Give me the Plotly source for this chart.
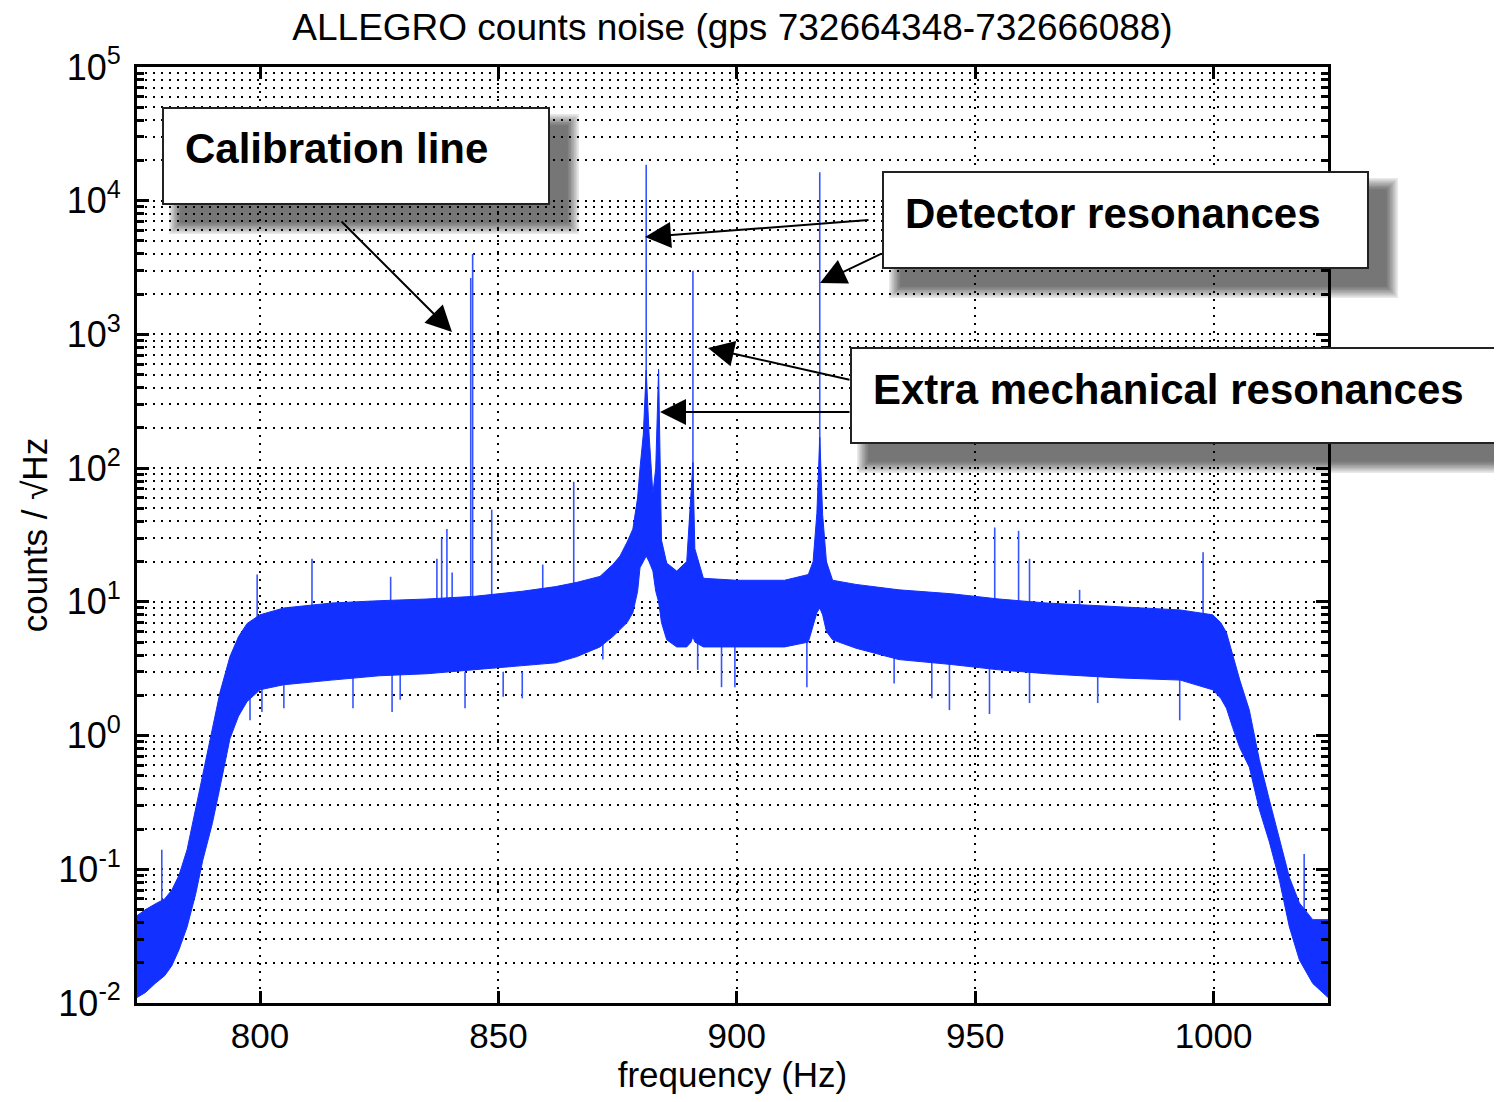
import plotly.graph_objects as go

# ---------------- data ----------------
env_freq = [774.2, 776, 778, 780, 781.5, 783, 784.7, 786.5, 788, 790, 791.6, 793.7, 795.5,
            797.3, 800, 805, 815, 825, 835, 845, 855, 862, 866.5, 871.3, 874, 875.5, 877,
            878.2, 879.2, 879.7, 880.4, 881.0, 881.6, 882.4, 883.0, 883.6, 884.2, 885.3,
            887.4, 889.5, 890.4, 890.8, 891.2, 893, 900, 910, 915, 916, 916.8, 917.4, 918,
            918.8, 920.1, 925, 934, 945, 955, 965, 980, 993, 999.8, 1001.5, 1002.7, 1004,
            1005.5, 1007.5, 1009.6, 1011.7, 1013.8, 1015.9, 1018, 1020.8, 1024]
env_upper = [0.045, 0.05, 0.055, 0.06, 0.07, 0.09, 0.14, 0.28, 0.52, 1.1, 2.1, 3.9, 5.5,
             6.9, 8.0, 9.0, 9.8, 10.2, 10.5, 11, 12, 13, 14, 15.5, 19, 22, 28,
             35, 60, 100, 180, 540, 180, 64, 100, 550, 29, 19.5,
             17, 20, 60, 110, 25, 15, 14.5, 14.5, 16, 20, 46, 170, 45,
             20, 14.5, 13.5, 12.3, 11.5, 10.5, 9.8, 9.2, 8.7, 8.0, 7.0, 5.9, 4.0,
             2.6, 1.55, 0.66, 0.33, 0.166, 0.087, 0.056, 0.042, 0.042]
env_lower = [0.011, 0.012, 0.014, 0.016, 0.019, 0.025, 0.037, 0.065, 0.117, 0.22, 0.41, 0.95, 1.4,
             1.8, 2.2, 2.4, 2.6, 2.8, 2.9, 3.1, 3.3, 3.5, 3.9, 4.6, 5.5, 6.2, 7.0,
             8.3, 12, 18, 20, 22, 20, 17, 12, 10, 7, 5.2,
             4.6, 4.6, 5.0, 5.5, 5.0, 4.6, 4.6, 4.6, 5.0, 6.5, 8.3, 9.0, 8.0,
             6.0, 5.2, 4.5, 3.7, 3.4, 3.1, 2.9, 2.7, 2.6, 2.2, 1.9, 1.6, 1.15,
             0.81, 0.58, 0.28, 0.16, 0.083, 0.037, 0.021, 0.014, 0.011]

# narrow lines rising above the noise floor
spike_freq = [779.4, 799.4, 810.9, 827.4, 837.1, 838.1, 839.2, 840.3, 844.2, 844.6, 848.6,
              859.3, 865.8, 881.0, 890.8, 917.4, 954.1, 959.1, 961.4, 971.9, 997.8, 1019.0]
spike_top = [0.14, 16, 21, 15.4, 21, 30, 35, 16.6, 2640, 4000, 49,
             19, 79, 18600, 3000, 16300, 36, 34, 21, 12.3, 23.5, 0.13]
spike_base = [0.05, 6, 7, 7, 8, 8, 8, 8, 8, 8, 8,
              9, 10, 100, 20, 40, 8, 8, 8, 7, 6, 0.04]

# downward dips below the noise floor
dip_freq = [797.9, 800.4, 805.0, 819.5, 827.7, 829.4, 843.0, 851.0, 855.0, 871.9, 891.8,
            896.8, 899.6, 914.7, 933.0, 940.9, 944.6, 953.0, 961.4, 975.7, 992.9]
dip_low = [1.3, 1.5, 1.6, 1.6, 1.5, 1.85, 1.6, 1.95, 1.9, 3.7, 3.1,
           2.3, 2.3, 2.3, 2.45, 1.9, 1.55, 1.45, 1.75, 1.75, 1.3]
dip_top = [3, 3, 3, 3, 3, 3, 3, 3, 3, 5, 5,
           5, 5, 5, 4, 4, 4, 4, 4, 3, 3]

x_ticks = [800, 850, 900, 950, 1000]
y_major = [1e-2, 1e-1, 1e0, 1e1, 1e2, 1e3, 1e4, 1e5]
y_major_text = ["10<sup>-2</sup>", "10<sup>-1</sup>", "10<sup>0</sup>", "10<sup>1</sup>",
                "10<sup>2</sup>", "10<sup>3</sup>", "10<sup>4</sup>", "10<sup>5</sup>"]
y_minor = [m * 10.0 ** e for e in range(-2, 5) for m in range(2, 10)]

title_text = "ALLEGRO counts noise (gps 732664348-732666088)"
x_label = "frequency (Hz)"
y_label = "counts / \u221aHz"
box_texts = ["Calibration line", "Detector resonances", "Extra mechanical resonances"]

# ---------------- geometry (screen pixels; page body has an 8px margin) ----------------
OFF = 8
W, H = 1502 - 2 * OFF, 1102 - 2 * OFF
L, R, T, B = 137, 1328, 67, 1003   # plot area in screen pixels


def px(x):
    return (x - L) / (R - L)


def py(y):
    return (B - y) / (B - T)


BLUE = "rgb(18,48,255)"
LINE_BLUE = "rgb(55,85,255)"

fig = go.Figure()

# spikes
sx, sy = [], []
for f, b, t in zip(spike_freq, spike_base, spike_top):
    sx += [f, f, None]
    sy += [b, t, None]
fig.add_trace(go.Scatter(x=sx, y=sy, mode="lines", line=dict(color=LINE_BLUE, width=1.6),
                         hoverinfo="skip"))
dx, dy = [], []
for f, lo, t in zip(dip_freq, dip_low, dip_top):
    dx += [f, f, None]
    dy += [t, lo, None]
fig.add_trace(go.Scatter(x=dx, y=dy, mode="lines", line=dict(color=LINE_BLUE, width=1.6),
                         hoverinfo="skip"))

# noise band
fig.add_trace(go.Scatter(x=env_freq, y=env_lower, mode="lines",
                         line=dict(color=BLUE, width=1), hoverinfo="skip"))
fig.add_trace(go.Scatter(x=env_freq, y=env_upper, mode="lines", fill="tonexty",
                         fillcolor=BLUE, line=dict(color=BLUE, width=1), hoverinfo="skip"))

FONT = "Liberation Sans, Arial, sans-serif"

fig.update_layout(
    width=W, height=H,
    margin=dict(l=L - OFF, r=W + OFF - R, t=T - OFF, b=H + OFF - B, pad=0, autoexpand=False),
    paper_bgcolor="white", plot_bgcolor="white",
    showlegend=False,
    font=dict(family=FONT, size=35, color="black"),
    title=dict(text=title_text, x=0.5, xref="paper", xanchor="center",
               y=1 - (27 - OFF) / H, yanchor="middle", yref="container",
               font=dict(size=37, family=FONT, color="black")),
)

fig.update_xaxes(
    range=[774.2, 1024.0], tickmode="array", tickvals=x_ticks, automargin=False,
    ticks="inside", ticklen=12, tickwidth=3, tickcolor="black",
    showline=True, linewidth=3, linecolor="black", mirror="ticks",
    showgrid=True, gridcolor="black", gridwidth=1.5, griddash="2px,6px",
    zeroline=False, ticklabelstandoff=0,
    tickfont=dict(size=35, family=FONT),
    title=dict(text=x_label, font=dict(size=35, family=FONT), standoff=14),
)
fig.update_yaxes(
    type="log", range=[-2, 5], tickmode="array", tickvals=y_major, ticktext=y_major_text,
    automargin=False,
    ticks="inside", ticklen=12, tickwidth=3, tickcolor="black",
    showline=True, linewidth=3, linecolor="black", mirror="ticks",
    showgrid=True, gridcolor="black", gridwidth=1.5, griddash="2px,6px",
    minor=dict(tickmode="array", tickvals=y_minor, ticks="inside", ticklen=7, tickwidth=2.5,
               tickcolor="black", showgrid=True, gridcolor="black", gridwidth=1.5,
               griddash="2px,6px"),
    zeroline=False, ticklabelstandoff=6,
    tickfont=dict(size=36, family=FONT),
    title=dict(text=y_label, font=dict(size=35, family=FONT), standoff=1),
)

# ---------------- annotation boxes with shadows ----------------
boxes = [(163, 108, 549, 204), (883, 172, 1368, 268), (851, 348, 1515, 443)]
text_pos = [(183, 148), (903, 213), (871, 389)]

shapes = []
for (x0, y0, x1, y1) in boxes:
    off = 18
    for k in range(8):
        e = 12 - k * 1.6
        shapes.append(dict(type="rect", xref="paper", yref="paper",
                           x0=px(x0 + off - e), x1=px(x1 + off + e),
                           y0=py(y1 + off + e), y1=py(y0 + off - e),
                           fillcolor="black", opacity=0.09, line=dict(width=0), layer="above"))
for (x0, y0, x1, y1) in boxes:
    shapes.append(dict(type="rect", xref="paper", yref="paper",
                       x0=px(x0), x1=px(x1), y0=py(y1), y1=py(y0),
                       fillcolor="white", line=dict(color="#222222", width=2), layer="above"))
fig.update_layout(shapes=shapes)

annotations = []
for txt, (tx, ty) in zip(box_texts, text_pos):
    annotations.append(dict(text="<b>" + txt + "</b>", xref="paper", yref="paper",
                            x=px(tx), y=py(ty), xanchor="left", yanchor="middle",
                            showarrow=False, font=dict(size=42, family=FONT, color="black")))

arrows = [((452, 332), (340, 220)),
          ((645, 237), (870, 220)),
          ((820, 283), (883, 253)),
          ((708, 348), (851, 380)),
          ((660, 412), (851, 412))]
for (hx, hy), (tx, ty) in arrows:
    annotations.append(dict(text="", xref="paper", yref="paper", x=px(hx), y=py(hy),
                            ax=tx - hx, ay=ty - hy, axref="pixel", ayref="pixel",
                            showarrow=True, arrowhead=2, arrowsize=2.6, arrowwidth=2,
                            arrowcolor="black", standoff=0))
fig.update_layout(annotations=annotations)

fig.write_html("out.html")
